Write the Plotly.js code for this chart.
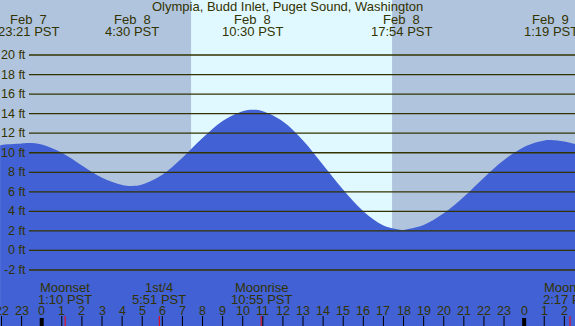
<!DOCTYPE html>
<html><head><meta charset="utf-8">
<script src="https://cdn.plot.ly/plotly-3.0.1.min.js"></script>
<style>html,body{margin:0;padding:0;overflow:hidden;background:#B0C4DE}</style>
</head><body><div id="chart" style="width:575px;height:326px"></div>
<script>
// Tide curve (hours from Feb 8 00:00 PST, feet)
const hours   = [-2.07, -2, -1, -0.65, 0, 1, 2, 3, 4, 4.5, 5, 6, 7, 8, 9, 10, 10.5, 11, 12, 13, 14, 15, 16, 17, 17.9, 18, 19, 20, 21, 22, 23, 24, 25, 25.32, 26, 26.6];
const heights = [10.75, 10.8, 10.95, 11.0, 10.85, 10.0, 8.7, 7.45, 6.7, 6.6, 6.75, 7.75, 9.5, 11.5, 13.25, 14.25, 14.4, 14.25, 13.2, 11.25, 8.75, 6.2, 4.0, 2.55, 2.1, 2.1, 2.6, 3.8, 5.5, 7.45, 9.25, 10.6, 11.25, 11.3, 11.15, 10.85];

// High / low tide labels
const tideHours = [-0.65, 4.5, 10.5, 17.9, 25.32];
const tideDates = ['Feb\u00a0\u00a07', 'Feb\u00a0\u00a08', 'Feb\u00a0\u00a08', 'Feb\u00a0\u00a08', 'Feb\u00a0\u00a09'];
const tideTimes = ['23:21 PST', '4:30 PST', '10:30 PST', '17:54 PST', '1:19 PST'];

// Moon events
const moonHours = [1.167, 5.85, 10.917, 26.283];
const moonNames = ['Moonset', '1st/4', 'Moonrise', 'Moonrise'];
const moonTimes = ['1:10 PST', '5:51 PST', '10:55 PST', '2:17 PST'];

// Daylight
const sunrise = 7.43, sunset = 17.43;

// Axis ticks
const yTicks = [20, 18, 16, 14, 12, 10, 8, 6, 4, 2, 0, -2];
const hourTicks = [];
for (let h = -2; h <= 26; h++) hourTicks.push(h);
const hourLabels = hourTicks.map(h => String(((h % 24) + 24) % 24));

const title = 'Olympia, Budd Inlet, Puget Sound, Washington';

const xRange = [-2.075, 26.53];
const yRange = [-7.73, 25.63];
const ink = '#333300';
const FONT = 'Liberation Sans, Arial, sans-serif';

const traces = [
  {x: hours, y: hours.map(() => yRange[0] - 5), mode: 'lines', line: {width: 0}, hoverinfo: 'skip', showlegend: false},
  {x: hours, y: heights, mode: 'lines', fill: 'tonexty', fillcolor: '#4161d4',
   line: {width: 0, shape: 'spline', color: '#4161d4'}, hoverinfo: 'skip', showlegend: false}
];

const shapes = [
  {type: 'rect', layer: 'below', xref: 'x', yref: 'paper', x0: sunrise, x1: sunset, y0: 0, y1: 1, fillcolor: '#E0F8FF', line: {width: 0}}
];
yTicks.forEach(v => shapes.push({type: 'line', layer: 'above', xref: 'paper', yref: 'y', x0: 29 / 575, x1: 1, y0: v, y1: v, line: {color: ink, width: 1.3}}));
hourTicks.forEach(h => {
  const mid = (h % 24 === 0);
  shapes.push({type: 'line', layer: 'above', xref: 'x', yref: 'paper', x0: h, x1: h, y0: 0, y1: mid ? 8 / 326 : 10 / 326,
    line: {color: '#000000', width: mid ? 4 : 1}});
});
moonHours.forEach(h => shapes.push({type: 'line', layer: 'above', xref: 'x', yref: 'paper', x0: h, x1: h, y0: 0, y1: 10 / 326, line: {color: '#ff0000', width: 1}}));

const annotations = [];
annotations.push({text: title, xref: 'paper', yref: 'paper', x: 0.5, y: 1 - 7 / 326, xanchor: 'center', yanchor: 'middle', showarrow: false, font: {family: FONT, size: 13, color: ink}});
tideHours.forEach((h, i) => {
  annotations.push({text: tideDates[i], xref: 'x', yref: 'paper', x: h, y: 1 - 19 / 326, xanchor: 'center', yanchor: 'middle', showarrow: false, font: {family: FONT, size: 13, color: ink}});
  annotations.push({text: tideTimes[i], xref: 'x', yref: 'paper', x: h, y: 1 - 31 / 326, xanchor: 'center', yanchor: 'middle', showarrow: false, font: {family: FONT, size: 13, color: ink}});
});
yTicks.forEach(v => annotations.push({text: v + ' ft', xref: 'paper', yref: 'y', x: 28 / 575, y: v, xanchor: 'right', yanchor: 'middle', showarrow: false, font: {family: FONT, size: 12.5, color: ink}}));
moonHours.forEach((h, i) => {
  annotations.push({text: moonNames[i], xref: 'x', yref: 'paper', x: h, y: (326 - 287) / 326, xanchor: 'center', yanchor: 'middle', showarrow: false, font: {family: FONT, size: 13, color: ink}});
  annotations.push({text: moonTimes[i], xref: 'x', yref: 'paper', x: h, y: (326 - 299) / 326, xanchor: 'center', yanchor: 'middle', showarrow: false, font: {family: FONT, size: 13, color: ink}});
});
hourTicks.forEach((h, i) => annotations.push({text: hourLabels[i], xref: 'x', yref: 'paper', x: h, y: (326 - 311) / 326, xanchor: 'center', yanchor: 'middle', showarrow: false, font: {family: FONT, size: 12.5, color: ink}}));

const layout = {
  width: 575, height: 326, margin: {l: 0, r: 0, t: 0, b: 0, pad: 0},
  paper_bgcolor: '#B0C4DE', plot_bgcolor: 'rgba(0,0,0,0)',
  xaxis: {range: xRange, visible: false, fixedrange: true},
  yaxis: {range: yRange, visible: false, fixedrange: true},
  shapes: shapes, annotations: annotations, showlegend: false
};
Plotly.newPlot('chart', traces, layout, {staticPlot: true, displayModeBar: false});
</script></body></html>
